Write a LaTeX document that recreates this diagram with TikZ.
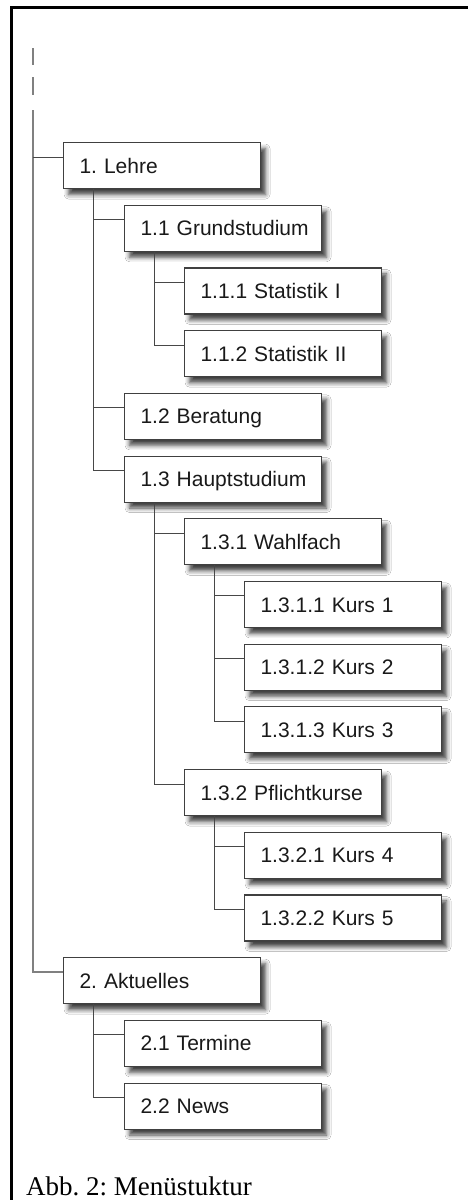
\documentclass[tikz,border=0pt]{standalone}
\usepackage{fontspec}
\setmainfont{Liberation Sans}
\newfontfamily\capfont{Liberation Serif}
\usetikzlibrary{shadows.blur}
\frenchspacing
\tikzset{
  menubox/.style={draw=black!75, line width=1.1pt, fill=white, anchor=north west,
    minimum width=197pt, minimum height=46pt, inner xsep=16pt, inner ysep=0pt,
    text height=15.2pt, text depth=0pt, align=left, text width=165pt,
    font=\fontsize{21}{25}\selectfont, text=black!90,
    blur shadow={shadow xshift=5pt, shadow yshift=-6pt, shadow blur radius=4.5pt, shadow opacity=75}},
  link/.style={draw=black!72, line width=1pt},
  trunk/.style={draw=black!50, line width=1.5pt}
}
\begin{document}
\begin{tikzpicture}[x=1pt,y=-1pt]
\useasboundingbox (0,0) rectangle (468,1200);
\fill[white] (0,0) rectangle (468,1200);
% frame
\draw[line width=2.6pt, black] (11.5,1215) -- (11.5,7.5) -- (480,7.5);
% nodes
\def\st{62.7}
\node[menubox] (lehre) at (63,142) {\mbox{1. Lehre}};
\node[menubox] (grund) at (124,142+1*\st) {\mbox{1.1 Grundstudium}};
\node[menubox] (stat1) at (184,142+2*\st) {\mbox{1.1.1 Statistik I}};
\node[menubox] (stat2) at (184,142+3*\st) {\mbox{1.1.2 Statistik II}};
\node[menubox] (berat) at (124,142+4*\st) {\mbox{1.2 Beratung}};
\node[menubox] (haupt) at (124,142+5*\st) {\mbox{1.3 Hauptstudium}};
\node[menubox] (wahl) at (184,142+6*\st) {\mbox{1.3.1 Wahlfach}};
\node[menubox] (k1) at (244,142+7*\st) {\mbox{1.3.1.1 Kurs 1}};
\node[menubox] (k2) at (244,142+8*\st) {\mbox{1.3.1.2 Kurs 2}};
\node[menubox] (k3) at (244,142+9*\st) {\mbox{1.3.1.3 Kurs 3}};
\node[menubox] (pflicht) at (184,142+10*\st) {\mbox{1.3.2 Pflichtkurse}};
\node[menubox] (k4) at (244,142+11*\st) {\mbox{1.3.2.1 Kurs 4}};
\node[menubox] (k5) at (244,142+12*\st) {\mbox{1.3.2.2 Kurs 5}};
\node[menubox] (akt) at (63,142+13*\st) {\mbox{2. Aktuelles}};
\node[menubox] (term) at (124,142+14*\st) {\mbox{2.1 Termine}};
\node[menubox] (news) at (124,142+15*\st) {\mbox{2.2 News}};
% trunk
\coordinate (d1a) at (33,48); \coordinate (d1b) at (33,65);
\coordinate (d2a) at (33,77); \coordinate (d2b) at (33,95);
\coordinate (root) at (33,110);
\coordinate (lehreIn) at ([yshift=-15pt]lehre.north west);
\draw[trunk] (d1a) -- (d1b);
\draw[trunk] (d2a) -- (d2b);
\draw[trunk] (root) |- ([yshift=-15pt]akt.north west);
\draw[link] (root |- lehreIn) -- (lehreIn);
% connectors
\foreach \p/\c in {lehre/grund, lehre/berat, lehre/haupt,
                   grund/stat1, grund/stat2,
                   haupt/wahl, haupt/pflicht,
                   wahl/k1, wahl/k2, wahl/k3,
                   pflicht/k4, pflicht/k5,
                   akt/term, akt/news}
  \draw[link] ([xshift=30pt]\p.south west) |- ([yshift=-15pt]\c.north west);
% caption
\node[anchor=base west, inner sep=0pt, font=\capfont\fontsize{27}{30}\selectfont] (cap) at (26,1195) {Abb. 2: Menüstuktur};
\end{tikzpicture}
\end{document}
